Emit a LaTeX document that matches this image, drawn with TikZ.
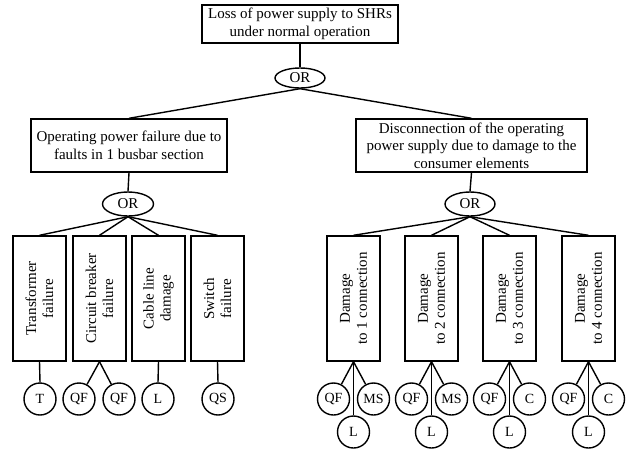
\documentclass[tikz,border=0pt]{standalone}
\usepackage{fontspec}
\setmainfont{Liberation Serif}
\usetikzlibrary{shapes.geometric}
\begin{document}
\begin{tikzpicture}[x=1pt,y=-1pt,line width=1.4pt,
  hbox/.style={draw,rectangle,align=center,inner sep=2pt,font=\fontsize{15}{17.5}\selectfont},
  gate/.style={draw,ellipse,inner sep=0pt,font=\fontsize{15}{17.5}\selectfont},
  vbox/.style={draw,rectangle,minimum width=53pt,minimum height=125pt,inner sep=0pt},
  vtext/.style={rotate=90,align=center,inner sep=0pt,font=\fontsize{15}{17}\selectfont},
  ev/.style={draw,circle,minimum size=32pt,inner sep=0pt,font=\fontsize{14}{16}\selectfont},
  conn/.style={draw,line width=1.4pt}]
\useasboundingbox (0,0) rectangle (628,450);
% top
\node[hbox,minimum width=196pt,minimum height=38pt] (top) at (300,24) {Loss of power supply to SHRs\\under normal operation};
\node[gate,minimum width=50pt,minimum height=20pt] (ort) at (300,78) {OR};
\node[hbox,minimum width=196pt,minimum height=53pt] (l1) at (129,145.5) {Operating power failure due to\\faults in 1 busbar section};
\node[hbox,minimum width=231pt,minimum height=53pt] (r1) at (471.5,145.5) {Disconnection of the operating\\power supply due to damage to the\\consumer elements};
\node[gate,minimum width=51pt,minimum height=24pt] (orl) at (128,204) {OR};
\node[gate,minimum width=50pt,minimum height=24pt] (orr) at (470,204) {OR};
\draw[conn] (top.south) -- (ort.north);
\draw[conn] (ort.south) -- (l1.north);
\draw[conn] (ort.south) -- (r1.north);
\draw[conn] (l1.south) -- (orl.north);
\draw[conn] (r1.south) -- (orr.north);
% left boxes
\node[vbox] (a1) at (39.5,298.5) {};
\node[vtext] at (a1) {Transformer\\failure};
\node[vbox] (a2) at (99.5,298.5) {};
\node[vtext] at (a2) {Circuit breaker\\failure};
\node[vbox] (a3) at (158.5,298.5) {};
\node[vtext] at (a3) {Cable line\\damage};
\node[vbox] (a4) at (217.5,298.5) {};
\node[vtext] at (a4) {Switch\\failure};
\foreach \b in {a1,a2,a3,a4} \draw[conn] (orl.south) -- (\b.north);
% left events
\node[ev] (t) at (40,399) {T};
\node[ev] (qf1) at (79,399) {QF};
\node[ev] (qf2) at (119,399) {QF};
\node[ev] (l) at (158,399) {L};
\node[ev] (qs) at (218,399) {QS};
\draw[conn] (a1.south) -- (t.north);
\draw[conn] (a2.south) -- (qf1);
\draw[conn] (a2.south) -- (qf2);
\draw[conn] (a3.south) -- (l.north);
\draw[conn] (a4.south) -- (qs.north);
% right boxes
\node[vbox] (b1) at (353.5,298.5) {};
\node[vtext] at (b1) {Damage\\to 1 connection};
\node[vbox] (b2) at (431.5,298.5) {};
\node[vtext] at (b2) {Damage\\to 2 connection};
\node[vbox] (b3) at (509.5,298.5) {};
\node[vtext] at (b3) {Damage\\to 3 connection};
\node[vbox] (b4) at (588.5,298.5) {};
\node[vtext] at (b4) {Damage\\to 4 connection};
\foreach \b in {b1,b2,b3,b4} \draw[conn] (orr.south) -- (\b.north);
% right events
\node[ev] (q1) at (333.5,399) {QF};
\node[ev] (m1) at (373.5,399) {MS};
\node[ev] (l1e) at (353.5,432) {L};
\node[ev] (q2) at (411.5,399) {QF};
\node[ev] (m2) at (451.5,399) {MS};
\node[ev] (l2e) at (431.5,432) {L};
\node[ev] (q3) at (489.5,399) {QF};
\node[ev] (m3) at (529.5,399) {C};
\node[ev] (l3e) at (509.5,432) {L};
\node[ev] (q4) at (568.5,399) {QF};
\node[ev] (m4) at (608.5,399) {C};
\node[ev] (l4e) at (588.5,432) {L};
\foreach \i in {1,2,3,4} {
  \draw[conn] (b\i.south) -- (q\i);
  \draw[conn] (b\i.south) -- (m\i);
  \draw[conn] (b\i.south) -- (l\i e.north);
}
\end{tikzpicture}
\end{document}
